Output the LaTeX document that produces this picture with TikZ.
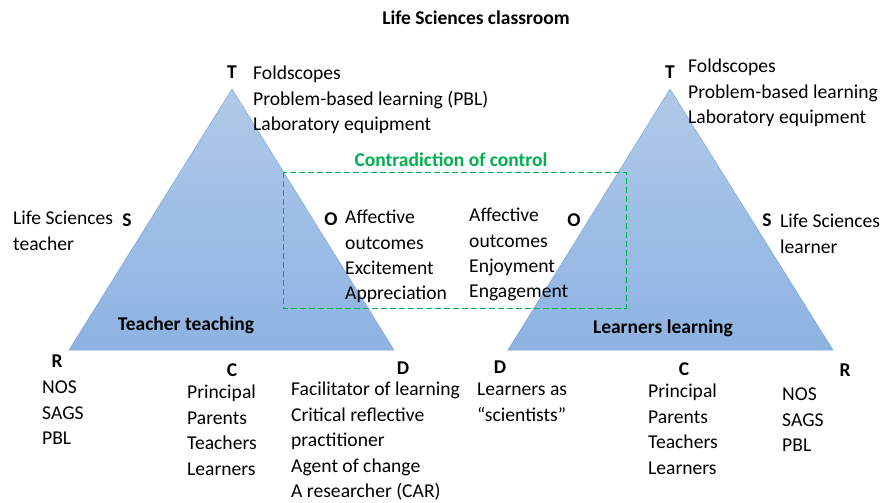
\documentclass[tikz,border=0pt]{standalone}
\usepackage{fontspec}
\setmainfont{Carlito}
\usetikzlibrary{positioning}
\definecolor{tritop}{RGB}{176,201,233}
\definecolor{tribot}{RGB}{141,179,226}
\definecolor{triedge}{RGB}{125,168,221}
\definecolor{ctrgreen}{RGB}{0,176,80}

\begin{document}
\begin{tikzpicture}[x=1pt,y=-1pt,
    vtx/.style={font=\fontsize{19.5}{21}\selectfont\bfseries, inner sep=0pt},
    list/.style={font=\fontsize{19.6}{25.4}\selectfont, align=left, anchor=north west, inner sep=0pt},
    tri/.style={top color=tritop, bottom color=tribot, draw=triedge, line width=0.5pt}]
    \useasboundingbox (0,0) rectangle (881,503);
    \node[font=\fontsize{19.5}{21}\selectfont\bfseries] (title) at (476,18) {Life Sciences classroom};

    % teacher triangle
    \coordinate (tchTop) at (232,89);
    \coordinate (tchLeft) at (69,350);
    \coordinate (tchRight) at (394,350);
    \shade[tri] (tchTop) -- (tchRight) -- (tchLeft) -- cycle;

    % learner triangle
    \coordinate (lrnTop) at (670,89);
    \coordinate (lrnLeft) at (508,350);
    \coordinate (lrnRight) at (833,350);
    \shade[tri] (lrnTop) -- (lrnRight) -- (lrnLeft) -- cycle;

    % contradiction box
    \draw[ctrgreen, line width=0.9pt, dash pattern=on 6pt off 3pt] (283,172) rectangle (626,308);
    \node[font=\fontsize{19.5}{21}\selectfont\bfseries, text=ctrgreen] (ctr) at (451,160) {Contradiction of control};

    % teacher side
    \node[vtx] (tchT) at (232,72) {T};
    \node[list] (tchTools) at (253,66) {Foldscopes\\Problem-based learning (PBL)\\Laboratory equipment};
    \node[vtx] (tchS) at (127,220) {S};
    \node[list] (tchSubj) at (13,211) {Life Sciences\\teacher};
    \node[vtx] (tchO) at (331,219) {O};
    \node[list] (tchObj) at (345,210) {Affective\\outcomes\\Excitement\\Appreciation};
    \node[font=\fontsize{19.5}{21}\selectfont\bfseries] (tchName) at (186,325) {Teacher teaching};
    \node[vtx] (tchR) at (57,361) {R};
    \node[list] (tchRules) at (42,381) {NOS\\SAGS\\PBL};
    \node[vtx] (tchC) at (232,370) {C};
    \node[list] (tchComm) at (187,385) {Principal\\Parents\\Teachers\\Learners};
    \node[vtx] (tchD) at (403,368) {D};
    \node[list] (tchDiv) at (291,382) {Facilitator of learning\\Critical reflective\\practitioner\\Agent of change\\A researcher (CAR)};

    % learner side
    \node[vtx] (lrnT) at (670,72) {T};
    \node[list] (lrnTools) at (688,59) {Foldscopes\\Problem-based learning\\Laboratory equipment};
    \node[vtx] (lrnO) at (574,220) {O};
    \node[list] (lrnObj) at (469,208) {Affective\\outcomes\\Enjoyment\\Engagement};
    \node[vtx] (lrnS) at (767,220) {S};
    \node[list] (lrnSubj) at (780,214) {Life Sciences\\learner};
    \node[font=\fontsize{19.5}{21}\selectfont\bfseries] (lrnName) at (663,328) {Learners learning};
    \node[vtx] (lrnD) at (500,367) {D};
    \node[list] (lrnDiv) at (477,383) {Learners as\\“scientists”};
    \node[vtx] (lrnC) at (684,369) {C};
    \node[list] (lrnComm) at (648,384) {Principal\\Parents\\Teachers\\Learners};
    \node[vtx] (lrnR) at (845,370) {R};
    \node[list] (lrnRules) at (782,388) {NOS\\SAGS\\PBL};
\end{tikzpicture}
\end{document}
